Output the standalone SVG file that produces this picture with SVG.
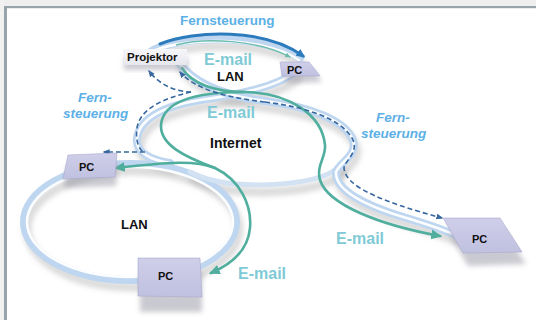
<svg xmlns="http://www.w3.org/2000/svg" width="536" height="320" viewBox="0 0 536 320">
<defs>
<style>
.tubeS{fill:none;stroke:#9a9a9a;stroke-opacity:.35;stroke-width:9;stroke-linecap:round}
.tube{fill:none;stroke:#bed6f0;stroke-width:8;stroke-linecap:round}
.tubeH{fill:none;stroke:#ffffff;stroke-width:2.6;stroke-linecap:round;stroke-opacity:.95}
.thin{fill:none;stroke:#d2e2f3;stroke-width:5;stroke-linecap:round}
.teal{fill:none;stroke:#4fae9d;stroke-width:2.6;stroke-linecap:round}
.tealThin{fill:none;stroke:#6cbcae;stroke-width:1.4}
.dash{fill:none;stroke:#36679f;stroke-width:1.6;stroke-dasharray:5 3}
.arc{fill:none;stroke:#2b7bbd;stroke-width:3;stroke-linecap:round}
.pc{fill:url(#pcg);stroke:#a9a9cc;stroke-width:.6}
.lbl{font-family:"Liberation Sans",Arial,sans-serif;font-weight:bold;fill:#111}
.mail{font-family:"Liberation Sans",Arial,sans-serif;font-weight:bold;fill:#7fcad6;font-size:16px}
.fern{font-family:"Liberation Sans",Arial,sans-serif;font-weight:bold;fill:#5cb0e6;font-size:13.5px}
</style>
<linearGradient id="pcg" x1="0" y1="0" x2="0" y2="1">
<stop offset="0" stop-color="#cfcfea"/><stop offset="1" stop-color="#c0c0e0"/>
</linearGradient>
<linearGradient id="prg" x1="0" y1="0" x2="0" y2="1">
<stop offset="0" stop-color="#f7f7fa"/><stop offset="1" stop-color="#e6e6ee"/>
</linearGradient>
<filter id="blur" x="-20%" y="-20%" width="140%" height="140%"><feGaussianBlur stdDeviation="2.5"/></filter>
<marker id="ahTeal" viewBox="0 0 10 10" refX="8" refY="5" markerWidth="11" markerHeight="11" markerUnits="userSpaceOnUse" orient="auto"><path d="M0,0.5 L10,5 L0,9.5 z" fill="#4fae9d"/></marker>
<marker id="ahTealS" viewBox="0 0 10 10" refX="8" refY="5" markerWidth="6" markerHeight="6" markerUnits="userSpaceOnUse" orient="auto"><path d="M0,1 L10,5 L0,9 z" fill="#6cbcae"/></marker>
<marker id="ahDash" viewBox="0 0 10 10" refX="8" refY="5" markerWidth="7" markerHeight="7" markerUnits="userSpaceOnUse" orient="auto"><path d="M0,1 L10,5 L0,9 z" fill="#36679f"/></marker>
<marker id="ahArc" viewBox="0 0 10 10" refX="7" refY="5" markerWidth="9" markerHeight="9" markerUnits="userSpaceOnUse" orient="auto"><path d="M0,0.5 L10,5 L0,9.5 z" fill="#2b7bbd"/></marker>
</defs>

<g id="frame">
<rect x="0" y="0" width="536" height="320" fill="#ffffff"/>
<rect x="0" y="0" width="536" height="6" fill="#efefef"/>
<rect x="0" y="0" width="4" height="320" fill="#f1f1f1"/>
<rect x="4" y="6" width="532" height="2.2" fill="#97a5ab"/>
<rect x="4" y="6" width="3" height="314" fill="#97a5ab"/>
</g>

<g id="tubes">
<g filter="url(#blur)" transform="translate(3,7)">
<ellipse class="tubeS" cx="130" cy="222" rx="106" ry="58"/>
<path class="tubeS" d="M150,52 C175,36 260,32 300,58"/>
<path class="tubeS" d="M178,62 C195,85 225,96 265,101 C310,107 345,120 353,140 C358,155 340,162 336,172 C335,190 365,205 400,216 C420,222 440,228 455,235"/>
<path class="tubeS" d="M295,72 C275,88 235,95 200,100 C165,106 140,118 137,138 C135,152 150,160 170,163"/>
<path class="tubeS" d="M340,165 C330,178 300,184 260,185 C230,185 205,180 190,172" stroke-width="5"/>
</g>
<ellipse class="tube" cx="130" cy="222" rx="106" ry="58"/>
<ellipse class="tubeH" cx="130" cy="222" rx="103" ry="55"/>
<path class="thin" d="M340,165 C330,178 300,184 260,185 C230,185 205,180 190,172"/>
<path class="tube" d="M150,52 C175,36 260,32 300,58"/>
<path class="tubeH" d="M150,53 C175,38 260,34 299,60"/>
<path class="tube" d="M295,72 C275,88 235,95 200,100 C165,106 140,118 137,138 C135,152 150,160 170,163"/>
<path class="tubeH" d="M295,72 C275,88 235,95 200,100 C165,106 140,118 137,138 C135,152 150,160 170,163"/>
<path class="tube" d="M178,62 C195,85 225,96 265,101 C310,107 345,120 353,140 C358,155 340,162 336,172 C335,190 365,205 400,216 C420,222 440,228 455,235"/>
<path class="tubeH" d="M178,62 C195,85 225,96 265,101 C310,107 345,120 353,140 C358,155 340,162 336,172 C335,190 365,205 400,216 C420,222 440,228 455,235"/>
</g>

<g id="connectors">
<path class="arc" d="M160,44 C195,30 265,28 303,56" marker-end="url(#ahArc)"/>
<path class="tealThin" d="M176,45 C205,37 258,40 290,57" marker-end="url(#ahTealS)"/>
<path class="teal" d="M182,68 C192,84 215,92 245,92 C290,93 322,115 325,145 C326,158 316,165 320,180 C328,205 380,225 440,236" marker-end="url(#ahTeal)"/>
<path class="teal" d="M245,92 C200,92 163,100 161,125 C160,145 185,157 215,168 C240,180 252,205 250,228 C248,250 232,264 211,273" marker-end="url(#ahTeal)"/>
<path class="teal" d="M215,168 C195,160 170,162 116,168" marker-end="url(#ahTeal)"/>
<path class="dash" d="M191,92 C178,92 160,86 149,71" marker-end="url(#ahDash)"/>
<path class="dash" d="M191,92 C165,98 140,108 137,128 C135,142 140,152 145,152 L104,152" marker-end="url(#ahDash)"/>
<path class="dash" d="M265,102 C230,98 195,90 180,72" marker-end="url(#ahDash)"/>
<path class="dash" d="M265,102 C305,107 340,118 352,138 C360,152 345,160 344,168 C345,185 375,200 442,218" marker-end="url(#ahDash)"/>
<text class="fern" x="180" y="25">Fernsteuerung</text>
<text class="fern" font-style="italic" x="78" y="102">Fern-</text>
<text class="fern" font-style="italic" x="63" y="118">steuerung</text>
<text class="fern" font-style="italic" x="376" y="122">Fern-</text>
<text class="fern" font-style="italic" x="361" y="138">steuerung</text>
<text class="mail" x="204" y="65">E-mail</text>
<text class="mail" x="207" y="118">E-mail</text>
<text class="mail" x="238" y="279">E-mail</text>
<text class="mail" x="336" y="244">E-mail</text>
</g>

<g id="projektor">
<rect x="124" y="58" width="64" height="12" fill="#9a9aa6" opacity=".5" filter="url(#blur)"/>
<rect x="123" y="49" width="64" height="16" fill="url(#prg)"/>
<text class="lbl" x="127" y="61" font-size="11.5">Projektor</text>
</g>

<g id="pc-top">
<polygon points="284,68 312,68 322,82 286,83" fill="#8a8a9a" opacity=".45" filter="url(#blur)"/>
<polygon class="pc" points="280,62 309,62 320,76 282,76"/>
<text class="lbl" x="287" y="74" font-size="11">PC</text>
</g>

<g id="pc-left">
<polygon points="67,165 118,163 116,186 64,188" fill="#8a8a9a" opacity=".45" filter="url(#blur)"/>
<polygon class="pc" points="68,155 117,153 115,177 63,179"/>
<text class="lbl" x="79" y="171" font-size="11">PC</text>
</g>

<g id="pc-bottom">
<rect x="140" y="272" width="62" height="40" fill="#8a8a9a" opacity=".45" filter="url(#blur)"/>
<polygon class="pc" points="138,258 200,258 202,297 138,296"/>
<text class="lbl" x="158" y="280" font-size="11">PC</text>
</g>

<g id="pc-right">
<polygon points="448,232 505,232 526,264 468,266" fill="#8a8a9a" opacity=".45" filter="url(#blur)"/>
<polygon class="pc" points="443,218 500,218 522,252 463,253"/>
<text class="lbl" x="472" y="243" font-size="11">PC</text>
</g>

<g id="labels">
<text class="lbl" x="217" y="81" font-size="13">LAN</text>
<text class="lbl" x="210" y="148" font-size="14">Internet</text>
<text class="lbl" x="121" y="229" font-size="13">LAN</text>
</g>
</svg>
